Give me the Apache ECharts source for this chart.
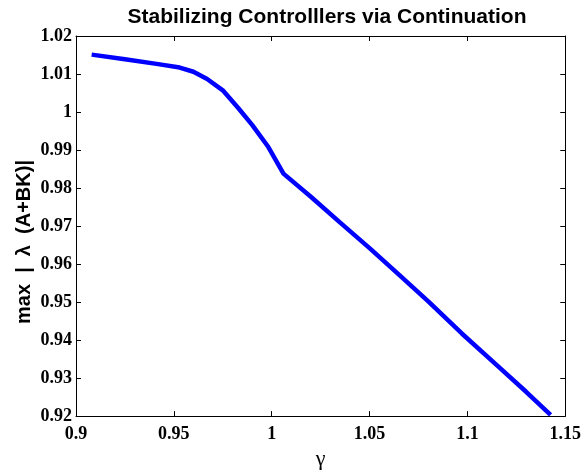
<!DOCTYPE html>
<html>
<head>
<meta charset="utf-8">
<title>Stabilizing Controlllers via Continuation</title>
<script src="https://cdn.jsdelivr.net/npm/echarts@6/dist/echarts.min.js"></script>
<style>
  html, body { margin: 0; padding: 0; background: #fff; }
  #chart { width: 584px; height: 475px; }
</style>
</head>
<body>
<div id="chart"></div>
<script>
// continuation steps (gamma) and the spectral radius at each step
var gammaVals = [0.908, 0.925, 0.942, 0.953, 0.960, 0.967, 0.975, 0.983, 0.990, 0.998,
                 1.006, 1.020, 1.035, 1.050, 1.065, 1.080, 1.097, 1.115, 1.130, 1.1425];
var maxEig = [1.0151, 1.0139, 1.0126, 1.0117, 1.0106, 1.0087, 1.0057, 1.0010, 0.9966, 0.9910,
              0.9838, 0.9777, 0.9709, 0.9642, 0.9572, 0.9502, 0.9418, 0.9334, 0.9264, 0.9203];

var xTicks = [0.9, 0.95, 1, 1.05, 1.1, 1.15];
var yTicks = [0.92, 0.93, 0.94, 0.95, 0.96, 0.97, 0.98, 0.99, 1, 1.01, 1.02];

var points = [];
for (var i = 0; i < gammaVals.length; i++) {
    points.push([gammaVals[i], maxEig[i]]);
}

var tickFont = { fontFamily: 'Liberation Serif', fontWeight: 'bold', fontSize: 18, color: '#000' };
var lineStyle = { color: '#000', width: 1 };

// matlab style box: ticks inside on all 4 sides
function xAxisOpt(pos, showLabel) {
    return {
        type: 'value', position: pos,
        min: xTicks[0], max: xTicks[xTicks.length - 1], interval: 0.05,
        axisLine: { show: true, onZero: false, lineStyle: lineStyle },
        axisTick: { show: true, inside: true, length: 5, lineStyle: lineStyle },
        axisLabel: Object.assign({ show: showLabel, margin: 9 }, tickFont),
        splitLine: { show: false }
    };
}
function yAxisOpt(pos, showLabel) {
    return {
        type: 'value', position: pos,
        min: yTicks[0], max: yTicks[yTicks.length - 1], interval: 0.01,
        axisLine: { show: true, onZero: false, lineStyle: lineStyle },
        axisTick: { show: true, inside: true, length: 5, lineStyle: lineStyle },
        axisLabel: Object.assign({ show: showLabel, margin: 4 }, tickFont),
        splitLine: { show: false }
    };
}

var xBottom = xAxisOpt('bottom', true);
xBottom.name = 'γ';
xBottom.nameLocation = 'middle';
xBottom.nameGap = 30;
xBottom.nameTextStyle = { fontFamily: 'Liberation Serif', fontSize: 22, color: '#000' };

var chart = echarts.init(document.getElementById('chart'));
chart.setOption({
    animation: false,
    backgroundColor: '#fff',
    title: {
        text: 'Stabilizing Controlllers via Continuation',
        left: 322, top: 2, textAlign: 'center',
        textStyle: { fontFamily: 'Liberation Sans', fontWeight: 'bold', fontSize: 21, color: '#000' }
    },
    grid: { left: 76, right: 16, top: 36, bottom: 52 },
    xAxis: [xBottom, xAxisOpt('top', false)],
    yAxis: [yAxisOpt('left', true), yAxisOpt('right', false)],
    graphic: [{
        type: 'text',
        x: 24, y: 242,
        rotation: Math.PI / 2,
        style: {
            text: 'max  |  λ  (A+BK)|',
            fontFamily: 'Liberation Sans', fontWeight: 'bold', fontSize: 20,
            fill: '#000', align: 'center', verticalAlign: 'middle'
        }
    }],
    series: [{
        type: 'line',
        data: points,
        showSymbol: false,
        lineStyle: { color: '#0000ff', width: 4.5 },
        silent: true
    }]
});
</script>
</body>
</html>
